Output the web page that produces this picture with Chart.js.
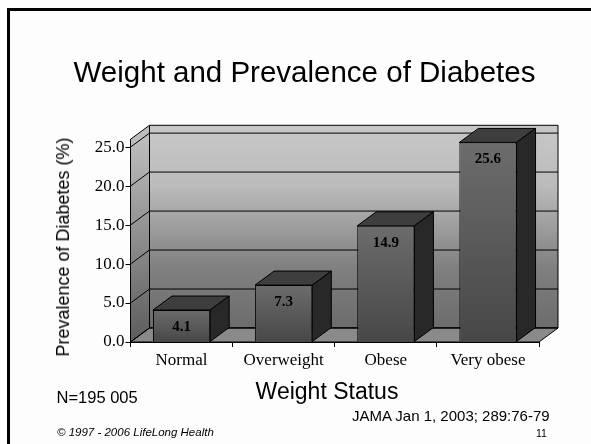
<!DOCTYPE html>
<html lang="en">
<head>
  <meta charset="UTF-8">
  <title>Weight and Prevalence of Diabetes</title>
  <script src="https://cdn.jsdelivr.net/npm/chart.js"></script>
  <style>
    html, body { margin: 0; padding: 0; background: #fdfdfd; }
    #slide {
      position: relative; width: 591px; height: 444px; overflow: hidden;
      font-family: "Liberation Sans", Arial, sans-serif; color: #000;
    }
    #frame {
      position: absolute; left: 7px; top: 8px; width: 600px; height: 460px;
      border: 3px solid #000;
    }
    #chart { position: absolute; left: 0; top: 0; }
    .note { position: absolute; white-space: nowrap; line-height: 1; }
    .mid { transform: translate(-50%, -50%); }
  </style>
</head>
<body>
  <div id="slide">
    <div id="frame"></div>
    <canvas id="chart" width="591" height="444"></canvas>
    <div class="note mid" style="left:304.5px;top:72px;font-size:29.5px">Weight and Prevalence of Diabetes</div>
    <div class="note mid" style="left:63px;top:247px;font-size:18px;transform:translate(-50%,-50%) rotate(-90deg)">Prevalence of Diabetes (%)</div>
    <div class="note mid" style="left:327px;top:391px;font-size:23px">Weight Status</div>
    <div class="note" style="left:56.5px;top:389px;font-size:16.5px">N=195 005</div>
    <div class="note" style="left:352px;top:408px;font-size:15px">JAMA Jan 1, 2003; 289:76-79</div>
    <div class="note" style="left:57px;top:427px;font-size:11.5px;font-style:italic">© 1997 - 2006 LifeLong Health</div>
    <div class="note" style="left:536px;top:428px;font-size:10.5px">11</div>
  </div>

  <script>
    const categories = ["Normal", "Overweight", "Obese", "Very obese"];
    const prevalence = [4.1, 7.3, 14.9, 25.6];
    const yTicks = [0, 5, 10, 15, 20, 25];
    const yMax = 26;

    // how far the back wall sits behind the front of the plot
    const depthX = 19;
    const depthY = 14;

    function poly(c, pts, fill) {
      c.beginPath();
      pts.forEach((p, i) => i ? c.lineTo(p[0], p[1]) : c.moveTo(p[0], p[1]));
      c.closePath();
      c.fillStyle = fill;
      c.fill();
      c.strokeStyle = "#000";
      c.lineWidth = 1;
      c.stroke();
    }

    const box3d = {
      id: "box3d",
      beforeDatasetsDraw(chart) {
        const c = chart.ctx;
        const { left, right, top, bottom } = chart.chartArea;
        const y = chart.scales.y;

        // back wall, side wall, floor
        const wall = c.createLinearGradient(0, top - depthY, 0, bottom - depthY);
        wall.addColorStop(0, "#c8c8c8");
        wall.addColorStop(0.3, "#bbbbbb");
        wall.addColorStop(0.7, "#808080");
        wall.addColorStop(1, "#6c6c6c");
        poly(c, [[left + depthX, top - depthY], [right + depthX, top - depthY],
                 [right + depthX, bottom - depthY], [left + depthX, bottom - depthY]], wall);
        const side = c.createLinearGradient(0, top, 0, bottom);
        side.addColorStop(0, "#bdbdbd");
        side.addColorStop(1, "#5c5c5c");
        poly(c, [[left, top], [left + depthX, top - depthY],
                 [left + depthX, bottom - depthY], [left, bottom]], side);
        poly(c, [[left, bottom], [left + depthX, bottom - depthY],
                 [right + depthX, bottom - depthY], [right, bottom]], "#8a8a8a");

        // grid lines follow the y scale across both walls
        c.strokeStyle = "#000";
        c.lineWidth = 1;
        yTicks.forEach(v => {
          const py = y.getPixelForValue(v);
          c.beginPath();
          c.moveTo(left, py);
          c.lineTo(left + depthX, py - depthY);
          c.lineTo(right + depthX, py - depthY);
          c.stroke();
        });

        // top and side faces of the bars
        chart.getDatasetMeta(0).data.forEach(bar => {
          const l = bar.x - bar.width / 2, r = bar.x + bar.width / 2;
          poly(c, [[l, bar.y], [l + depthX, bar.y - depthY],
                   [r + depthX, bar.y - depthY], [r, bar.y]], "#3e3e3e");
          poly(c, [[r, bar.y], [r + depthX, bar.y - depthY],
                   [r + depthX, bar.base - depthY], [r, bar.base]], "#282828");
        });
      },
      afterDatasetsDraw(chart) {
        const c = chart.ctx;
        c.font = "bold 15px 'Liberation Serif'";
        c.fillStyle = "#000";
        c.textAlign = "center";
        c.textBaseline = "middle";
        chart.getDatasetMeta(0).data.forEach((bar, i) => {
          c.fillText(prevalence[i].toFixed(1), bar.x, bar.y + 17);
        });
      }
    };

    new Chart(document.getElementById("chart"), {
      type: "bar",
      data: {
        labels: categories,
        datasets: [{
          data: prevalence,
          backgroundColor(ctx) {
            // not laid out yet on the first pass
            const area = ctx.chart.chartArea;
            if (!area) return "#5a5a5a";
            const topPx = area.bottom - (prevalence[ctx.dataIndex] / yMax) * area.height;
            const g = ctx.chart.ctx.createLinearGradient(0, topPx, 0, area.bottom);
            g.addColorStop(0, "#6c6c6c");
            g.addColorStop(1, "#474747");
            return g;
          },
          borderColor: "#000",
          borderWidth: 1,
          barPercentage: 0.56,
          categoryPercentage: 1
        }]
      },
      options: {
        responsive: false,
        animation: false,
        layout: { padding: { top: 139.3, right: 52, bottom: 0, left: 0 } },
        plugins: {
          legend: { display: false },
          tooltip: { enabled: false }
        },
        scales: {
          x: {
            offset: true,
            grid: { drawOnChartArea: false, color: "#000", tickLength: 5 },
            border: { color: "#000" },
            ticks: { color: "#000", font: { family: "Liberation Serif", size: 17 }, padding: 3, maxRotation: 0 },
            afterFit(scale) { scale.height = 102; }
          },
          y: {
            min: 0,
            max: yMax,
            afterBuildTicks(scale) { scale.ticks = yTicks.map(v => ({ value: v })); },
            grid: { drawOnChartArea: false, color: "#000", tickLength: 5 },
            border: { color: "#000" },
            ticks: {
              color: "#000",
              font: { family: "Liberation Serif", size: 17 },
              padding: 1,
              callback: v => v.toFixed(1)
            },
            afterFit(scale) { scale.width = 130.5; }
          }
        }
      },
      plugins: [box3d]
    });
  </script>
</body>
</html>
